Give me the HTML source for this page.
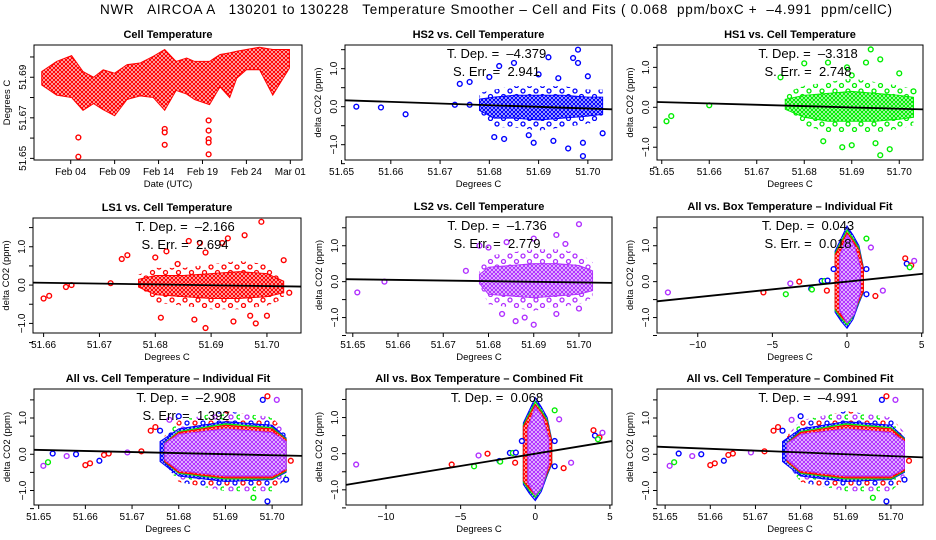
<!DOCTYPE html>
<html><head><meta charset="utf-8">
<style>
html,body{margin:0;padding:0;background:#fff;}
svg{display:block;font-family:"Liberation Sans",Arial,sans-serif;}
text{white-space:pre;}
</style></head>
<body>
<svg id="chart" width="936" height="540" viewBox="0 0 936 540" xmlns="http://www.w3.org/2000/svg" xml:space="preserve">
<defs>
<pattern id="pat-red" width="4" height="4" patternUnits="userSpaceOnUse"><rect width="4" height="4" fill="#fff"/><circle cx="2" cy="2" r="1.5" fill="none" stroke="#ff0000" stroke-width="1.2"/></pattern>
<pattern id="pat-blue" width="4" height="4" patternUnits="userSpaceOnUse"><rect width="4" height="4" fill="#fff"/><circle cx="2" cy="2" r="1.5" fill="none" stroke="#0000ff" stroke-width="1.2"/></pattern>
<pattern id="pat-green" width="4" height="4" patternUnits="userSpaceOnUse"><rect width="4" height="4" fill="#fff"/><circle cx="2" cy="2" r="1.5" fill="none" stroke="#00ee00" stroke-width="1.2"/></pattern>
<pattern id="pat-purple" width="4" height="4" patternUnits="userSpaceOnUse"><rect width="4" height="4" fill="#fff"/><circle cx="2" cy="2" r="1.5" fill="none" stroke="#b030ff" stroke-width="1.2"/></pattern>
<pattern id="sp-red" width="13" height="11" patternUnits="userSpaceOnUse"><circle cx="3" cy="3" r="2" fill="#fff" stroke="#ff0000" stroke-width="1.3"/><circle cx="9.5" cy="8.5" r="2" fill="none" stroke="#ff0000" stroke-width="1.3"/></pattern>
<pattern id="sp-blue" width="13" height="11" patternUnits="userSpaceOnUse"><circle cx="3" cy="3" r="2" fill="#fff" stroke="#0000ff" stroke-width="1.3"/><circle cx="9.5" cy="8.5" r="2" fill="none" stroke="#0000ff" stroke-width="1.3"/></pattern>
<pattern id="sp-green" width="13" height="11" patternUnits="userSpaceOnUse"><circle cx="3" cy="3" r="2" fill="#fff" stroke="#00ee00" stroke-width="1.3"/><circle cx="9.5" cy="8.5" r="2" fill="none" stroke="#00ee00" stroke-width="1.3"/></pattern>
<pattern id="sp-purple" width="13" height="11" patternUnits="userSpaceOnUse"><circle cx="3" cy="3" r="2" fill="#fff" stroke="#b030ff" stroke-width="1.3"/><circle cx="9.5" cy="8.5" r="2" fill="none" stroke="#b030ff" stroke-width="1.3"/></pattern>
<pattern id="sp-mix" width="16" height="12" patternUnits="userSpaceOnUse"><circle cx="3" cy="3" r="2" fill="#fff" stroke="#ff0000" stroke-width="1.3"/><circle cx="11" cy="3" r="2" fill="#fff" stroke="#0000ff" stroke-width="1.3"/><circle cx="7" cy="9" r="2" fill="#fff" stroke="#b030ff" stroke-width="1.3"/><circle cx="15" cy="9" r="2" fill="#fff" stroke="#00ee00" stroke-width="1.3"/></pattern>
</defs>
<text x="100" y="14" font-size="13.5" textLength="792" lengthAdjust="spacing">NWR   AIRCOA A   130201 to 130228   Temperature Smoother – Cell and Fits ( 0.068  ppm/boxC +  –4.991  ppm/cellC)</text>
</svg>
<script>
// ---------- Data ----------
const cellTempDays = [0.7,2.4,4.1,5.4,6.6,7.7,9,10.4,11.9,13.4,14.7,16,17.2,18.1,19.8,21,22.1,22.9,24,25.5,27,28.9];
const cellTempMin = [51.6862,51.6812,51.680,51.6737,51.677,51.674,51.671,51.679,51.6808,51.680,51.6737,51.6835,51.6817,51.679,51.6765,51.6853,51.680,51.6895,51.6937,51.6937,51.6812,51.6945];
const cellTempMax = [51.6928,51.6978,51.7007,51.6928,51.690,51.6937,51.692,51.6962,51.697,51.7003,51.7037,51.6978,51.6995,51.6978,51.6978,51.7012,51.702,51.7028,51.7037,51.7048,51.7037,51.7037];
const cellOutDays = [4.87,4.87,14.7,14.7,14.7,19.7,19.7,19.7,19.7,19.7];
const cellOutVals = [51.6603,51.6508,51.6645,51.6628,51.6567,51.6687,51.6637,51.6595,51.6578,51.652];
const dayTicks = [4,9,14,19,24,29];
const dayTickLabels = ["Feb 04","Feb 09","Feb 14","Feb 19","Feb 24","Mar 01"];
const cellYTicks = [51.65,51.66,51.67,51.68,51.69,51.70];
const cellYLabels = ["51.65","","51.67","","51.69",""];

const hs2Cloud = [[51.678,-0.1,0.2],[51.681,-0.3,0.25],[51.685,-0.3,0.3],[51.69,-0.35,0.3],[51.695,-0.3,0.3],[51.70,-0.25,0.25],[51.703,-0.2,0.25]];
const hs2Out = [[51.653,0],[51.658,-0.02],[51.663,-0.2],[51.673,0.05],[51.676,0.05],[51.674,0.6],[51.676,0.65],[51.68,0.78],[51.682,1.07],[51.685,1.15],[51.692,1.3],[51.697,1.28],[51.698,1.5],[51.698,1.15],[51.70,0.8],[51.681,-0.8],[51.683,-0.85],[51.688,-0.75],[51.689,-0.95],[51.693,-0.9],[51.696,-1.1],[51.699,-0.95],[51.699,-1.3],[51.703,-0.7],[51.690,0.85],[51.694,0.75]];
const hs1Cloud = [[51.676,-0.05,0.2],[51.68,-0.25,0.3],[51.685,-0.35,0.35],[51.69,-0.35,0.4],[51.695,-0.35,0.35],[51.70,-0.3,0.3],[51.703,-0.25,0.25]];
const hs1Out = [[51.651,-0.35],[51.652,-0.22],[51.66,0.05],[51.675,0.75],[51.68,1.1],[51.685,1.12],[51.689,1.0],[51.694,1.45],[51.696,1.2],[51.693,1.12],[51.684,-0.85],[51.688,-1.0],[51.69,-0.95],[51.696,-1.2],[51.698,-1.05],[51.70,0.85],[51.703,0.4],[51.695,-0.9],[51.69,0.8]];
const ls1Cloud = [[51.677,-0.05,0.15],[51.68,-0.25,0.25],[51.685,-0.3,0.25],[51.69,-0.35,0.3],[51.695,-0.35,0.35],[51.70,-0.3,0.3],[51.703,-0.2,0.1]];
const ls1Out = [[51.66,-0.35],[51.661,-0.28],[51.664,-0.05],[51.665,0],[51.672,0.05],[51.674,0.68],[51.675,0.78],[51.68,0.72],[51.682,0.88],[51.684,0.55],[51.686,1.15],[51.688,1.1],[51.689,0.85],[51.692,1.1],[51.693,1.22],[51.696,1.3],[51.699,1.65],[51.681,-0.85],[51.687,-0.9],[51.689,-1.12],[51.694,-0.95],[51.697,-0.8],[51.698,-1.0],[51.70,-0.8],[51.704,-0.2],[51.703,0.65]];
const ls2Cloud = [[51.678,-0.05,0.2],[51.68,-0.35,0.4],[51.685,-0.4,0.45],[51.69,-0.45,0.5],[51.695,-0.4,0.5],[51.70,-0.35,0.45],[51.703,-0.25,0.3]];
const ls2Out = [[51.651,-0.3],[51.657,0.0],[51.675,0.3],[51.678,1.0],[51.68,0.95],[51.684,1.1],[51.69,1.2],[51.695,1.3],[51.70,1.6],[51.697,1.05],[51.683,-0.9],[51.688,-1.0],[51.69,-1.2],[51.695,-0.9],[51.70,-0.75],[51.686,-1.1]];
const boxCloudOuter = [[-0.8,-0.85,0.85],[-0.4,-1.1,1.2],[0,-1.3,1.55],[0.4,-1.05,1.3],[0.8,-0.6,1.0],[1.1,-0.3,0.4]];
const boxCloudCore = [[-0.5,-0.8,0.7],[0,-1.15,1.3],[0.5,-0.9,1.0],[0.9,-0.3,0.4]];
const boxOutX = [-12,-5.6,-4.1,-3.8,-3.2,-2.4,-2.35,-1.7,-1.5,-1.3,-1.35,-0.9,1.3,1.6,1.3,1.3,1.9,2.4,3.9,4.0,4.3,4.5,4.2];
const boxOutY = [-0.3,-0.3,-0.35,-0.05,0,-0.2,-0.22,0.02,0.02,0.03,-0.25,0.35,1.2,0.95,0.35,-0.35,-0.4,-0.25,0.65,0.5,0.45,0.58,0.4];
const boxOutC = ["purple","red","green","purple","red","blue","green","blue","green","blue","red","blue","green","purple","blue","blue","red","purple","red","blue","red","purple","green"];
const allCellBlue = [[51.676,-0.2,0.35],[51.68,-0.6,0.7],[51.69,-0.75,0.9],[51.70,-0.7,0.8],[51.703,-0.5,0.45]];
const allCellRed = [[51.677,-0.2,0.3],[51.68,-0.5,0.6],[51.69,-0.65,0.8],[51.70,-0.65,0.7],[51.703,-0.45,0.4]];
const allCellCore = [[51.677,-0.15,0.3],[51.68,-0.45,0.55],[51.69,-0.6,0.7],[51.70,-0.6,0.6],[51.703,-0.4,0.35]];
const allOutX = [51.651,51.652,51.653,51.656,51.658,51.66,51.661,51.663,51.664,51.665,51.669,51.672,51.674,51.675,51.676,51.678,51.68,51.698,51.699,51.701,51.703,51.704,51.699,51.696];
const allOutY = [-0.32,-0.22,0.02,-0.05,0,-0.3,-0.25,-0.18,-0.02,0.02,0.05,0.08,0.65,0.75,0.65,0.95,1.05,1.5,1.6,1.5,-0.7,-0.18,-1.3,-1.2];
const allOutC = ["purple","green","blue","purple","blue","red","red","blue","red","red","purple","red","red","red","blue","purple","blue","blue","red","purple","blue","red","blue","green"];
const fitSlopes = [-4.379,-3.318,-2.166,-1.736,0.043,-2.908,0.068,-4.991];
const fitCenters = [51.689,51.689,51.688,51.688,0,51.691,0,51.690];
const fitTexts = ["–4.379","–3.318","–2.166","–1.736","0.043","–2.908","0.068","–4.991"];
const errTexts = ["2.941","2.748","2.694","2.779","0.018","1.392",null,null];

// ---------- Drawing ----------
const svg = document.getElementById('chart');
const NS = 'http://www.w3.org/2000/svg';
function mk(tag, attrs, parent){
  const e = document.createElementNS(NS, tag);
  for (const k in attrs) e.setAttribute(k, attrs[k]);
  (parent||svg).appendChild(e);
  return e;
}
function scales(p){
  const sx = v => p.box[0] + (v - p.xd[0])/(p.xd[1]-p.xd[0])*(p.box[2]-p.box[0]);
  const sy = v => p.box[3] - (v - p.yd[0])/(p.yd[1]-p.yd[0])*(p.box[3]-p.box[1]);
  return [sx, sy];
}
function frame(p, g, xt, xl, yt, yl, title, xlab, ylab){
  const [sx, sy] = scales(p);
  const [x0,y0,x1,y1] = p.box;
  const r = mk('rect',{x:x0,y:y0,width:x1-x0,height:y1-y0,fill:'none',stroke:'#000','stroke-width':1},g);
  
  
  xt.forEach((v,i)=>{
    const X = sx(v);
    const t = mk('line',{x1:X,y1:y1,x2:X,y2:y1+4,stroke:'#000'},g);
    
    
    if (xl[i]) {
      const tx = mk('text',{x:X,y:y1+15,'font-size':10,'text-anchor':'middle'},g);
      tx.textContent = xl[i];
      
      
    }
  });
  yt.forEach((v,i)=>{
    const Y = sy(v);
    const t = mk('line',{x1:x0-4,y1:Y,x2:x0,y2:Y,stroke:'#000'},g);
    
    
    if (yl[i]) {
      const tx = mk('text',{x:x0-8,y:Y,'font-size':10,'text-anchor':'middle',transform:`rotate(-90 ${x0-8} ${Y})`},g);
      tx.textContent = yl[i];
      
      
    }
  });
  const tt = mk('text',{x:(x0+x1)/2,y:y0-7,'font-size':11,'font-weight':'bold','text-anchor':'middle'},g);
  tt.textContent = title;
  
  
  const xa = mk('text',{x:(x0+x1)/2,y:y1+27,'font-size':9.5,'text-anchor':'middle'},g);
  xa.textContent = xlab;
  
  
  const ya = mk('text',{x:x0-24,y:(y0+y1)/2,'font-size':9.5,'text-anchor':'middle',transform:`rotate(-90 ${x0-24} ${(y0+y1)/2})`},g);
  ya.textContent = ylab;
  
  
}
const COL = {red:'#ff0000',blue:'#0000ff',green:'#00ee00',purple:'#b030ff'};
function cloud(p, g, arr, color, sparse){
  const [sx, sy] = scales(p);
  const up = arr.map(d => `${sx(d[0])},${sy(d[2])}`);
  const lo = arr.slice().reverse().map(d => `${sx(d[0])},${sy(d[1])}`);
  const poly = mk('polygon',{points:up.concat(lo).join(' '),fill:`url(#${sparse?'sp':'pat'}-${color})`,stroke:sparse?'none':(COL[color]||'none'),'stroke-width':1,'clip-path':`url(#${p.clip})`},g);
  
  
}
function halo(arr, k){ return arr.map(d=>[d[0], d[1]*k, d[2]*k]); }
function pt(p, g, x, y, color){
  const [sx, sy] = scales(p);
  const c = mk('circle',{cx:sx(x),cy:sy(y),r:2.4,fill:'#fff',stroke:COL[color],'stroke-width':1.4},g);
  
  
}
function fit(p, g, i){
  const [sx, sy] = scales(p);
  const f = v => fitSlopes[i]*(v - fitCenters[i]);
  const l = mk('line',{x1:sx(p.xd[0]),y1:sy(f(p.xd[0])),x2:sx(p.xd[1]),y2:sy(f(p.xd[1])),stroke:'#000','stroke-width':1.8},g);
  
  
  const cx = (p.box[0]+p.box[2])/2 + 18;
  const t1 = mk('text',{x:cx,y:p.box[1]+13,'font-size':13,'text-anchor':'middle'},g);
  t1.textContent = 'T. Dep. =  ' + fitTexts[i];
  
  
  if (errTexts[i]) {
    const t2 = mk('text',{x:cx,y:p.box[1]+31,'font-size':13,'text-anchor':'middle'},g);
    t2.textContent = 'S. Err. =  ' + errTexts[i];
    
    
  }
}
function clipFor(p){
  const defs = svg.querySelector('defs');
  const cp = mk('clipPath',{id:p.clip},defs);
  mk('rect',{x:p.box[0]+1,y:p.box[1]+1,width:p.box[2]-p.box[0]-2,height:p.box[3]-p.box[1]-2},cp);
}

const cellTicks = [51.65,51.66,51.67,51.68,51.69,51.70];
const cellLbl = ["51.65","51.66","51.67","51.68","51.69","51.70"];
const dTicks = [-1.5,-1,-0.5,0,0.5,1,1.5];
const dLbl = ["","−1.0","","0.0","","1.0",""];
const boxTicks = [-10,-5,0,5];
const boxLbl = ["−10","−5","0","5"];
const YL = 'delta CO2 (ppm)';

(function(){
  const p = {box:[34,45,302,160], xd:[-0.18,30.33], yd:[51.6492,51.7059], clip:'c1'};
  clipFor(p);
  const g = mk('g',{});  
  const arr = cellTempDays.map((d,i)=>[d, cellTempMin[i], cellTempMax[i]]);
  cloud(p, g, arr, 'red');
  cellOutDays.forEach((d,i)=>pt(p,g,d,cellOutVals[i],'red'));
  frame(p, g, dayTicks, dayTickLabels, cellYTicks, cellYLabels, 'Cell Temperature', 'Date (UTC)', 'Degrees C');
})();

function cellPanel(id, name, box, xd, yd, clouds, outs, fi, title){
  const p = {box, xd, yd, clip:id};
  clipFor(p);
  const g = mk('g',{});  
  if (clouds.length > 1) cloud(p,g,halo(clouds[clouds.length-1][0],1.7),'mix',true);
  else cloud(p,g,halo(clouds[0][0],1.8),clouds[0][1],true);
  clouds.forEach(c=>cloud(p,g,c[0],c[1]));
  outs.forEach(o=>pt(p,g,o[0],o[1],o[2]));
  fit(p, g, fi);
  frame(p, g, cellTicks, cellLbl, dTicks, dLbl, title, 'Degrees C', YL);
}
cellPanel('c2','panel-hs2',[345,45,612,160],[51.6507,51.7049],[-1.403,1.623],[[hs2Cloud,'blue']],hs2Out.map(d=>[d[0],d[1],'blue']),0,'HS2 vs. Cell Temperature');
cellPanel('c3','panel-hs1',[657,45,923,160],[51.649,51.705],[-1.32,1.56],[[hs1Cloud,'green']],hs1Out.map(d=>[d[0],d[1],'green']),1,'HS1 vs. Cell Temperature');
cellPanel('c4','panel-ls1',[33,218,301,333],[51.6581,51.7061],[-1.25,1.75],[[ls1Cloud,'red']],ls1Out.map(d=>[d[0],d[1],'red']),2,'LS1 vs. Cell Temperature');
cellPanel('c5','panel-ls2',[346,217,612,333],[51.6485,51.7073],[-1.43,1.8],[[ls2Cloud,'purple']],ls2Out.map(d=>[d[0],d[1],'purple']),3,'LS2 vs. Cell Temperature');

function boxPanel(id, name, box, xd, yd, fi, title){
  const p = {box, xd, yd, clip:id};
  clipFor(p);
  const g = mk('g',{});  
  cloud(p,g,boxCloudOuter,'blue');
  cloud(p,g,halo(boxCloudOuter,0.93),'green');
  cloud(p,g,halo(boxCloudOuter,0.88),'red');
  cloud(p,g,boxCloudCore,'purple');
  boxOutX.forEach((x,i)=>pt(p,g,x,boxOutY[i],boxOutC[i]));
  fit(p, g, fi);
  frame(p, g, boxTicks, boxLbl, dTicks, dLbl, title, 'Degrees C', YL);
}
boxPanel('c6','panel-all-box-individual',[657,217,923,333],[-12.73,5.09],[-1.43,1.8],4,'All vs. Box Temperature – Individual Fit');
boxPanel('c8','panel-all-box-combined',[346,389,612,505],[-12.68,5.14],[-1.42,1.79],6,'All vs. Box Temperature – Combined Fit');

const allOuts = allOutX.map((x,i)=>[x,allOutY[i],allOutC[i]]);
const allClouds = [[allCellBlue,'blue'],[halo(allCellRed,1.05),'green'],[allCellRed,'red'],[allCellCore,'purple']];
cellPanel('c7','panel-all-cell-individual',[34,389,302,505],[51.649,51.7064],[-1.40,1.80],allClouds,allOuts,5,'All vs. Cell Temperature – Individual Fit');
cellPanel('c9','panel-all-cell-combined',[657,389,923,505],[51.6482,51.7071],[-1.40,1.80],allClouds,allOuts,7,'All vs. Cell Temperature – Combined Fit');
</script>
</body></html>
